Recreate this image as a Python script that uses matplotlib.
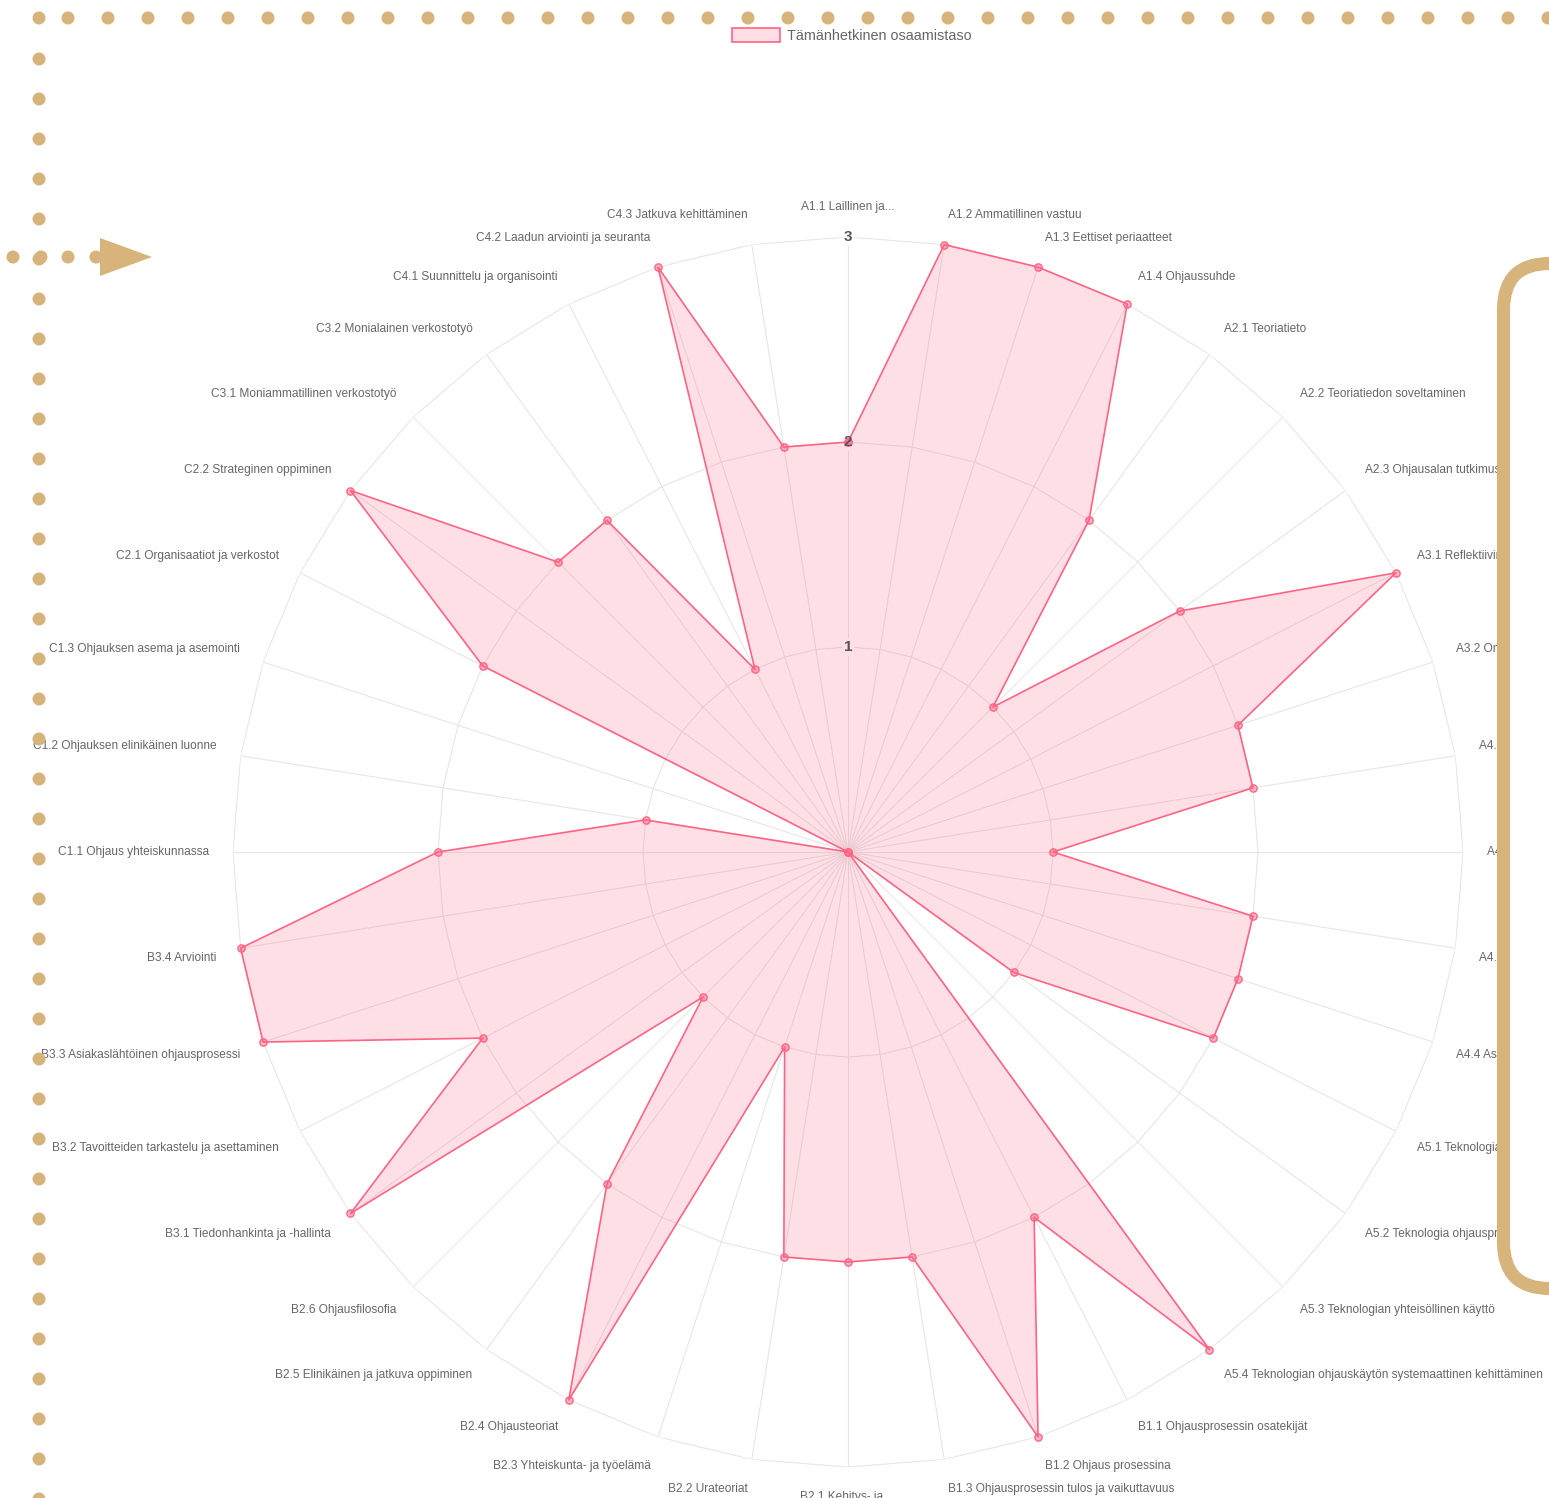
import numpy as np
import matplotlib.pyplot as plt
from matplotlib.patches import Circle, Polygon, FancyBboxPatch, Patch

plt.rcParams['font.family'] = ['Liberation Sans', 'DejaVu Sans']

labels = [
    "A1.1 Laillinen ja...",
    "A1.2 Ammatillinen vastuu",
    "A1.3 Eettiset periaatteet",
    "A1.4 Ohjaussuhde",
    "A2.1 Teoriatieto",
    "A2.2 Teoriatiedon soveltaminen",
    "A2.3 Ohjausalan tutkimus",
    "A3.1 Reflektiivinen työote",
    "A3.2 Oman toiminnan arviointi",
    "A4.1 Vuorovaikutus",
    "A4.2 Ohjausmenetelmät",
    "A4.3 Ryhmäohjaus",
    "A4.4 Asiakkaan kohtaaminen",
    "A5.1 Teknologian hyödyntäminen",
    "A5.2 Teknologia ohjausprosessissa",
    "A5.3 Teknologian yhteisöllinen käyttö",
    "A5.4 Teknologian ohjauskäytön systemaattinen kehittäminen",
    "B1.1 Ohjausprosessin osatekijät",
    "B1.2 Ohjaus prosessina",
    "B1.3 Ohjausprosessin tulos ja vaikuttavuus",
    "B2.1 Kehitys- ja ...",
    "B2.2 Urateoriat",
    "B2.3 Yhteiskunta- ja työelämä",
    "B2.4 Ohjausteoriat",
    "B2.5 Elinikäinen ja jatkuva oppiminen",
    "B2.6 Ohjausfilosofia",
    "B3.1 Tiedonhankinta ja -hallinta",
    "B3.2 Tavoitteiden tarkastelu ja asettaminen",
    "B3.3 Asiakaslähtöinen ohjausprosessi",
    "B3.4 Arviointi",
    "C1.1 Ohjaus yhteiskunnassa",
    "C1.2 Ohjauksen elinikäinen luonne",
    "C1.3 Ohjauksen asema ja asemointi",
    "C2.1 Organisaatiot ja verkostot",
    "C2.2 Strateginen oppiminen",
    "C3.1 Moniammatillinen verkostotyö",
    "C3.2 Monialainen verkostotyö",
    "C4.1 Suunnittelu ja organisointi",
    "C4.2 Laadun arviointi ja seuranta",
    "C4.3 Jatkuva kehittäminen",
]

values = [2, 3, 3, 3, 2, 1, 2, 3, 2, 2,
          1, 2, 2, 2, 1, 0, 3, 2, 3, 2,
          2, 2, 1, 3, 2, 1, 3, 2, 3, 3,
          2, 1, 0, 2, 3, 2, 2, 1, 3, 2]

ticks = [1, 2, 3]
series_name = "Tämänhetkinen osaamistaso"

line_col = '#ff6384'
fill_col = (1.0, 99 / 255, 132 / 255, 0.2)
grid_col = '#e6e6e6'
tan = '#d6b47b'

W, H = 1549, 1498
fig = plt.figure(figsize=(W / 100, H / 100), dpi=100)

# radar: centre (848, 852) px, outer ring radius 615 px
cx, cy, R = 848, 852, 615
ax = fig.add_axes([(cx - R) / W, (H - cy - R) / H, 2 * R / W, 2 * R / H],
                  projection='polar')
ax.set_theta_zero_location('N')
ax.set_theta_direction(-1)
ax.set_ylim(0, 3)
ax.set_xticks([])
ax.set_yticks([])
ax.grid(False)
ax.spines['polar'].set_visible(False)
ax.patch.set_alpha(0)

n = len(labels)
theta = np.arange(n) * 2 * np.pi / n
theta_closed = np.append(theta, theta[0])

# polygon grid rings and spokes
for t in ticks:
    ax.plot(theta_closed, [t] * (n + 1), color=grid_col, lw=0.8, zorder=1)
for th in theta:
    ax.plot([th, th], [0, ticks[-1]], color=grid_col, lw=0.8, zorder=1)

# tick labels: backdrop under the data, digits above it
for t in ticks:
    ax.text(0, t, str(t), ha='center', va='center', fontsize=11,
            fontweight='bold', color='none', zorder=1.5,
            bbox=dict(facecolor='white', edgecolor='none', pad=1.5))
    ax.text(0, t, str(t), ha='center', va='center', fontsize=11,
            fontweight='bold', color='#555555', zorder=5)

vals_closed = np.append(values, values[0])
ax.fill(theta_closed, vals_closed, color=fill_col, lw=0, zorder=2)
ax.plot(theta_closed, vals_closed, color=line_col, lw=1.2, zorder=3,
        marker='o', markersize=5.2, mfc=(1.0, 99 / 255, 132 / 255, 0.45),
        mec=line_col, mew=1, clip_on=False)

# point labels outside the outer ring
r_lab = 3 * 639 / 615
for i, (th, lab) in enumerate(zip(theta, labels)):
    deg = i * 360 / n
    if deg in (0, 180):
        ha = 'center'
    elif deg < 180:
        ha = 'left'
    else:
        ha = 'right'
    if deg in (90, 270):
        va = 'center'
    elif deg < 90 or deg > 270:
        va = 'bottom'
    else:
        va = 'top'
    ax.text(th, r_lab, lab, ha=ha, va=va, fontsize=8.6, color='#666666')

fig.legend(handles=[Patch(facecolor=fill_col, edgecolor=line_col, lw=1.2)],
           labels=[series_name], loc='center',
           bbox_to_anchor=(852 / W, 1 - 35.5 / H), frameon=False,
           fontsize=10.4, labelcolor='#666666', handlelength=3.3,
           handleheight=1.05, handletextpad=0.55)

# page decoration on top: dotted border, arrow and framed panel
deco = fig.add_axes([0, 0, 1, 1], zorder=5)
deco.set_xlim(0, W)
deco.set_ylim(H, 0)
deco.axis('off')
deco.patch.set_alpha(0)

dot_r = 6.5
top_x = np.concatenate([[39], np.arange(68, W + 10, 40)])
for x in top_x:
    deco.add_patch(Circle((x, 18), dot_r, color=tan, lw=0))
for y in np.arange(59, H + 10, 40):
    deco.add_patch(Circle((39, y), dot_r, color=tan, lw=0))
for x in [13, 41, 68, 96]:
    deco.add_patch(Circle((x, 257), dot_r, color=tan, lw=0))
deco.add_patch(Polygon([[100, 238], [100, 276], [152, 257]], closed=True,
                       color=tan, lw=0))

deco.add_patch(FancyBboxPatch((1503.5, 263.5), 300, 1025,
                              boxstyle='round,pad=0,rounding_size=46',
                              facecolor='white', edgecolor=tan, lw=9.4))

fig.savefig('out.png', dpi=100)
